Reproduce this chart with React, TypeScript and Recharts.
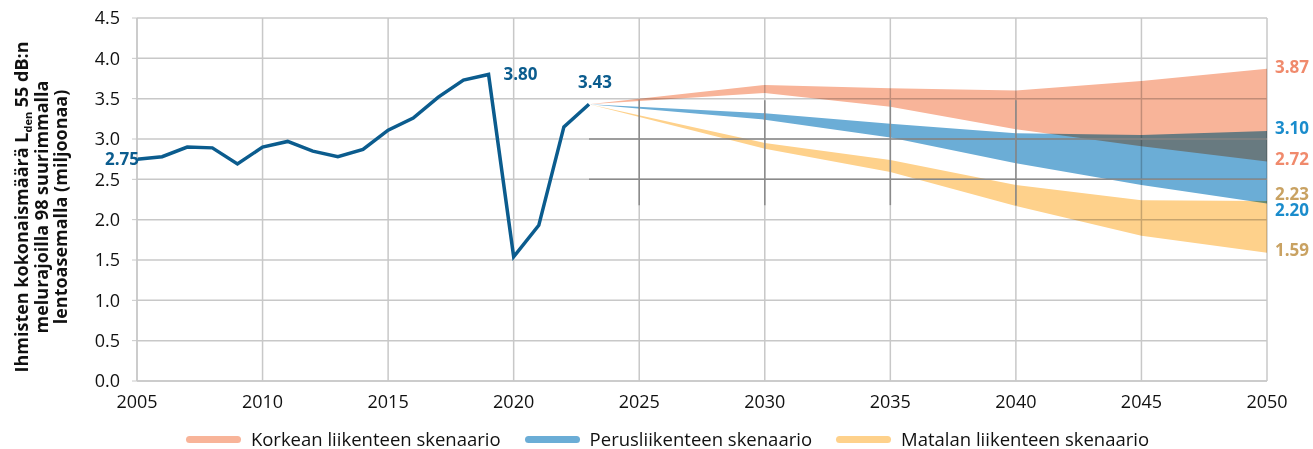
import React from "react"
import {
  ComposedChart,
  Line,
  Area,
  Scatter,
  XAxis,
  YAxis,
  CartesianGrid,
  ReferenceLine,
  Legend,
} from "recharts"

// history 2005–2023
const historyYears = [2005, 2006, 2007, 2008, 2009, 2010, 2011, 2012, 2013, 2014, 2015, 2016, 2017, 2018, 2019, 2020, 2021, 2022, 2023]
const historyValues = [2.75, 2.78, 2.9, 2.89, 2.69, 2.9, 2.97, 2.85, 2.78, 2.87, 3.11, 3.26, 3.52, 3.73, 3.8, 1.54, 1.93, 3.15, 3.43]
const labeledYears = [2005, 2019, 2023]

// scenarios
const scenarioYears = [2023, 2030, 2035, 2040, 2045, 2050]
const highMin = [3.43, 3.57, 3.4, 3.12, 2.91, 2.72]
const highMax = [3.43, 3.67, 3.63, 3.6, 3.72, 3.87]
const baseMin = [3.43, 3.24, 3.02, 2.7, 2.43, 2.2]
const baseMax = [3.43, 3.32, 3.19, 3.07, 3.05, 3.1]
const lowMin = [3.43, 2.88, 2.59, 2.17, 1.8, 1.59]
const lowMax = [3.43, 2.95, 2.74, 2.43, 2.24, 2.23]

const xTicks = [2005, 2010, 2015, 2020, 2025, 2030, 2035, 2040, 2045, 2050]
const yTicks = [0, 0.5, 1, 1.5, 2, 2.5, 3, 3.5, 4, 4.5]

const legendNames = ["Korkean liikenteen skenaario", "Perusliikenteen skenaario", "Matalan liikenteen skenaario"]

// stray dark lines visible in the original graphic
const overlayRows = [3.0, 2.5]
const overlayCols = [2025, 2030, 2035, 2040]

const HIST = "#0b5c8e"
const HIGH = "#f8b499"
const BASE = "#6badd6"
const LOW = "#fed18b"
const HIGH_TXT = "#f08a6c"
const BASE_TXT = "#1a8ccc"
const LOW_TXT = "#c9a262"
const GRID = "#c8c8c8"
const FONT = "'Open Sans', sans-serif"

type Row = { year: number; hist?: number; high?: number[]; base?: number[]; low?: number[] }

const rows: Row[] = historyYears.map((y, i) => ({ year: y, hist: historyValues[i] }))
scenarioYears.forEach((y, i) => {
  let r = rows.find((d) => d.year === y)
  if (!r) {
    r = { year: y }
    rows.push(r)
  }
  r.high = [highMin[i], highMax[i]]
  r.base = [baseMin[i], baseMax[i]]
  r.low = [lowMin[i], lowMax[i]]
})

const last = scenarioYears.length - 1
const endLabels = [
  { year: 2050, v: highMax[last], color: HIGH_TXT, dy: -2 },
  { year: 2050, v: baseMax[last], color: BASE_TXT, dy: -2.5 },
  { year: 2050, v: highMin[last], color: HIGH_TXT, dy: -3 },
  { year: 2050, v: lowMax[last], color: LOW_TXT, dy: -7.5 },
  { year: 2050, v: baseMin[last], color: BASE_TXT, dy: 6.5 },
  { year: 2050, v: lowMin[last], color: LOW_TXT, dy: -2.5 },
]

const blend = { mixBlendMode: "multiply" as const }

function YTitle() {
  return (
    <text
      transform="translate(28, 207) rotate(-90)"
      textAnchor="middle"
      fontFamily={FONT}
      fontWeight={700}
      fontSize={18}
      fill="#111"
    >
      <tspan x={0} y={0}>
        Ihmisten kokonaismäärä  L
        <tspan fontSize={11} dy={4}>den</tspan>
        <tspan dy={-4}> 55 dB:n</tspan>
      </tspan>
      <tspan x={0} y={20}>melurajoilla 98 suurimmalla</tspan>
      <tspan x={0} y={39}>lentoasemalla (miljoonaa)</tspan>
    </text>
  )
}

function HistLabel(props: any) {
  const { x, y, index } = props
  const year = historyYears[index]
  if (!labeledYears.includes(year) || x == null) return null
  const txt = historyValues[index].toFixed(2)
  let tx = x
  let ty = y
  let anchor: "start" | "middle" | "end" = "middle"
  if (year === 2005) {
    tx = x + 2
    ty = y + 6
    anchor = "end"
  } else if (year === 2019) {
    tx = x + 15
    ty = y + 6
    anchor = "start"
  } else {
    tx = x + 6
    ty = y - 16
  }
  return (
    <text x={tx} y={ty} textAnchor={anchor} fill={HIST} fontFamily={FONT} fontWeight={700} fontSize={17}>
      {txt}
    </text>
  )
}

function EndLabel(props: any) {
  const { cx, cy, payload } = props
  if (cx == null) return null
  return (
    <text x={cx + 8} y={cy + 6 + payload.dy} fill={payload.color} fontFamily={FONT} fontWeight={700} fontSize={17}>
      {payload.v.toFixed(2)}
    </text>
  )
}

function LegendContent() {
  const colors = [HIGH, BASE, LOW]
  return (
    <div
      style={{
        display: "flex",
        justifyContent: "center",
        alignItems: "center",
        paddingLeft: 92,
        paddingTop: 8,
        lineHeight: "20px",
        fontFamily: "'Liberation Sans Narrow', 'Open Sans', sans-serif",
        fontSize: 18.5,
        color: "#111",
      }}
    >
      {legendNames.map((n, i) => (
        <div key={n} style={{ display: "flex", alignItems: "center", marginRight: 24 }}>
          <span
            style={{
              display: "inline-block",
              width: 55,
              height: 7,
              borderRadius: 4,
              background: colors[i],
              marginRight: 10,
            }}
          />
          <span>{n}</span>
        </div>
      ))}
    </div>
  )
}

export default function App() {
  return (
    <div style={{ position: "absolute", left: 0, top: 0, background: "#fff", width: 1313, height: 449 }}>
      <ComposedChart width={1313} height={449} data={rows} margin={{ top: 18, right: 46, left: 0, bottom: 0 }}>
        <CartesianGrid stroke={GRID} strokeWidth={1.5} />
        <XAxis
          dataKey="year"
          type="number"
          domain={[2005, 2050]}
          ticks={xTicks}
          height={40}
          tickLine={false}
          axisLine={{ stroke: GRID, strokeWidth: 1.5 }}
          tick={{ fill: "#111", fontSize: 18, fontFamily: FONT }}
          tickMargin={8}
        />
        <YAxis
          type="number"
          domain={[0, 4.5]}
          ticks={yTicks}
          width={137}
          tickFormatter={(v: number) => v.toFixed(1)}
          axisLine={{ stroke: GRID, strokeWidth: 1.5 }}
          tickLine={{ stroke: GRID }}
          tickSize={5}
          tickMargin={12}
          tick={{ fill: "#111", fontSize: 18, fontFamily: FONT }}
          label={{ content: () => <YTitle /> }}
        />
        <Area dataKey="high" type="linear" stroke="none" fill={HIGH} fillOpacity={1} style={blend} isAnimationActive={false} legendType="none" />
        <Area dataKey="base" type="linear" stroke="none" fill={BASE} fillOpacity={1} style={blend} isAnimationActive={false} legendType="none" />
        <Area dataKey="low" type="linear" stroke="none" fill={LOW} fillOpacity={1} style={blend} isAnimationActive={false} legendType="none" />
        {overlayRows.map((v) => (
          <ReferenceLine
            key={"r" + v}
            segment={[
              { x: 2023, y: v },
              { x: 2050, y: v },
            ]}
            stroke="#8a8a8a"
            strokeWidth={1.5}
          />
        ))}
        {overlayCols.map((c) => (
          <ReferenceLine
            key={"c" + c}
            segment={[
              { x: c, y: 2.18 },
              { x: c, y: 3.48 },
            ]}
            stroke="#8a8a8a"
            strokeWidth={1.5}
          />
        ))}
        <Line
          dataKey="hist"
          type="linear"
          stroke={HIST}
          strokeWidth={3.5}
          dot={false}
          activeDot={false}
          isAnimationActive={false}
          label={<HistLabel />}
        />
        <Scatter data={endLabels} dataKey="v" shape={<EndLabel />} isAnimationActive={false} legendType="none" />
        <Legend verticalAlign="bottom" height={28} content={() => <LegendContent />} />
      </ComposedChart>
    </div>
  )
}
